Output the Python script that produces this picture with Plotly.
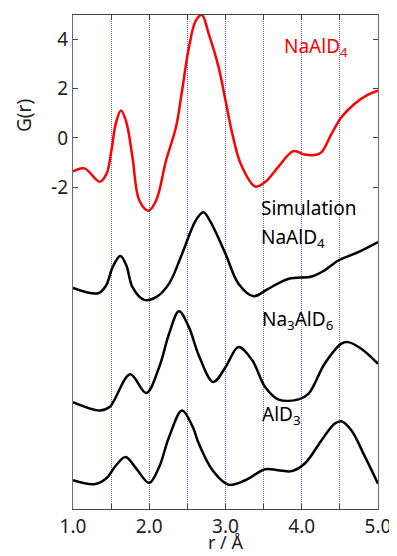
import plotly.graph_objects as go

# Experimental G(r) for NaAlD4 (red)
r_exp = [1.00, 1.15, 1.35, 1.44, 1.50, 1.565, 1.63, 1.70, 1.78, 1.87, 1.99, 2.09, 2.22, 2.35, 2.43,
         2.52, 2.61, 2.69, 2.78, 2.91, 3.00, 3.09, 3.20, 3.39, 3.52, 3.69, 3.89, 4.04, 4.19, 4.26,
         4.39, 4.52, 4.69, 4.87, 5.00]
g_exp = [-1.36, -1.24, -1.78, -1.46, -0.58, 0.63, 1.11, 0.63, -0.79, -2.55, -2.96, -2.55, -0.92, 0.43, 1.92,
         3.68, 4.77, 5.00, 4.23, 2.87, 1.52, 0.16, -1.06, -1.98, -1.80, -1.19, -0.54, -0.68, -0.69, -0.58,
         0.16, 0.84, 1.38, 1.76, 1.92]

# Simulation NaAlD4 (offset curve)
r_sim1 = [1.00, 1.33, 1.435, 1.52, 1.62, 1.70, 1.78, 1.935, 2.09, 2.26, 2.43, 2.61, 2.71, 2.80, 3.00,
          3.17, 3.37, 3.56, 3.83, 4.13, 4.30, 4.48, 4.74, 5.00]
g_sim1 = [-6.10, -6.32, -6.00, -5.26, -4.81, -5.19, -6.07, -6.59, -6.48, -5.93, -4.72, -3.36, -3.03, -3.40, -4.72,
          -5.93, -6.44, -6.14, -5.73, -5.64, -5.39, -4.99, -4.65, -4.24]

# Simulation Na3AlD6 (offset curve)
r_sim2 = [1.00, 1.35, 1.48, 1.54, 1.75, 1.96, 2.13, 2.26, 2.39, 2.52, 2.65, 2.84, 3.00, 3.17, 3.35,
          3.52, 3.69, 3.96, 4.09, 4.30, 4.52, 4.61, 4.78, 5.00]
g_sim2 = [-10.75, -11.09, -10.95, -10.68, -9.62, -10.38, -9.33, -7.97, -7.05, -7.70, -8.85, -9.93, -9.33, -8.51, -9.05,
          -10.14, -10.64, -10.64, -10.41, -9.19, -8.37, -8.31, -8.58, -9.19]

# Simulation AlD3 (offset curve)
r_sim3 = [1.00, 1.28, 1.435, 1.565, 1.69, 1.83, 2.00, 2.13, 2.26, 2.43, 2.57, 2.65, 2.83, 3.04, 3.26,
          3.52, 3.69, 3.87, 4.04, 4.26, 4.43, 4.52, 4.65, 4.83, 5.00]
g_sim3 = [-13.93, -14.09, -13.86, -13.32, -12.98, -13.46, -14.04, -13.39, -12.17, -11.09, -11.76, -12.44, -13.52, -14.11, -13.93,
          -13.48, -13.52, -13.56, -13.25, -12.30, -11.63, -11.53, -11.90, -12.98, -14.07]

x_tickvals = [1.0, 2.0, 3.0, 4.0, 5.0]
x_ticktext = ["1.0", "2.0", "3.0", "4.0", "5.0"]
y_tickvals = [4, 2, 0, -2]
y_ticktext = ["4", "2", "0", "-2"]

FONT = "Noto Sans"
FS = 19
GRID = "rgb(100,100,255)"
GRIDDASH = "1px,1px"

fig = go.Figure()
fig.add_trace(go.Scatter(x=r_exp, y=g_exp, mode="lines", line=dict(color="#ff0000", width=2.5, shape="spline", smoothing=1.0)))
for rr, gg in [(r_sim1, g_sim1), (r_sim2, g_sim2), (r_sim3, g_sim3)]:
    fig.add_trace(go.Scatter(x=rr, y=gg, mode="lines", line=dict(color="#000000", width=2.5, shape="spline", smoothing=1.0)))

ann_font = dict(family=FONT, size=FS)
fig.add_annotation(x=3.74, y=3.68, text="NaAlD<sub>4</sub>", showarrow=False, xanchor="left", yanchor="middle",
                   font=dict(ann_font, color="#ff0000"))
fig.add_annotation(x=3.44, y=-2.87, text="Simulation", showarrow=False, xanchor="left", yanchor="middle",
                   font=dict(ann_font, color="#000000"))
fig.add_annotation(x=3.44, y=-4.09, text="NaAlD<sub>4</sub>", showarrow=False, xanchor="left", yanchor="middle",
                   font=dict(ann_font, color="#000000"))
fig.add_annotation(x=3.45, y=-7.43, text="Na<sub>3</sub>AlD<sub>6</sub>", showarrow=False, xanchor="left", yanchor="middle",
                   font=dict(ann_font, color="#000000"))
fig.add_annotation(x=3.45, y=-11.28, text="AlD<sub>3</sub>", showarrow=False, xanchor="left", yanchor="middle",
                   font=dict(ann_font, color="#000000"))
# axis titles
fig.add_annotation(xref="paper", yref="y", x=-0.16, y=0.9, text="G(r)", textangle=-90, showarrow=False,
                   xanchor="center", yanchor="middle", font=dict(family=FONT, size=FS, color="#222"))
fig.add_annotation(xref="paper", yref="paper", x=0.5, y=-0.096, text="r / Å", showarrow=False,
                   xanchor="center", yanchor="bottom", font=dict(family=FONT, size=18, color="#222"))

# page body has an 8px default margin, so the figure is sized to fit the remaining window
fig.update_layout(
    width=389, height=548,
    margin=dict(l=65, r=17, t=6, b=47),
    paper_bgcolor="white", plot_bgcolor="white",
    showlegend=False,
    font=dict(family=FONT, size=FS, color="#222"),
    xaxis=dict(range=[1.0, 5.0], tickvals=x_tickvals, ticktext=x_ticktext,
               ticks="inside", ticklen=5, tickwidth=1, tickcolor="#444",
               minor=dict(dtick=0.5, tick0=1.0, ticks="inside", ticklen=5, tickwidth=1, tickcolor="#444",
                          showgrid=True, gridcolor=GRID, griddash=GRIDDASH, gridwidth=1),
               showline=True, linecolor="#444", linewidth=1.2, mirror="ticks",
               showgrid=True, gridcolor=GRID, griddash=GRIDDASH, gridwidth=1,
               zeroline=False,
               tickfont=dict(family=FONT, size=FS, color="#222")),
    yaxis=dict(range=[-15.1, 5.0], tickvals=y_tickvals, ticktext=y_ticktext,
               ticks="inside", ticklen=5, tickwidth=1, tickcolor="#444",
               showline=True, linecolor="#666690", linewidth=1.2, mirror="ticks",
               showgrid=False, zeroline=False,
               tickfont=dict(family=FONT, size=FS, color="#222")),
)

fig.write_html("out.html")
